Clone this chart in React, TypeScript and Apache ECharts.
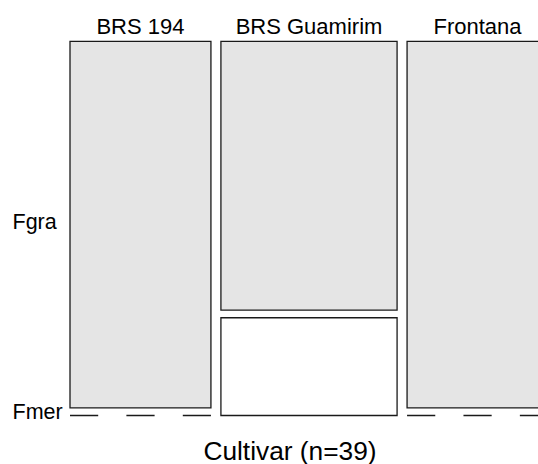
import React, { useEffect, useRef } from "react";
import * as echarts from "echarts";

// Cultivar x response counts for the mosaic
const cultivars = ["BRS 194", "BRS Guamirim", "Frontana"];
const responses = ["Fgra", "Fmer"];
const fgraCounts = [12, 11, 12];
const fmerCounts = [0, 4, 0];

// Spacing between tiles: columns in count units, rows as a share of the column height
const GAP_X = 0.85;
const GAP_Y = 0.021;

const FONT = "'Liberation Sans', Arial, Helvetica, sans-serif";
const STROKE = "#1a1a1a";

export default function App() {
  const ref = useRef<HTMLDivElement>(null);

  useEffect(() => {
    document.body.style.margin = "0";
    const chart = echarts.init(ref.current!, null, { renderer: "svg" });

    const totals = cultivars.map((_, i) => fgraCounts[i] + fmerCounts[i]);
    const n = totals.reduce((a, b) => a + b, 0);
    const starts: number[] = [];
    let acc = 0;
    totals.forEach((t, i) => {
      starts.push(acc + i * GAP_X);
      acc += t;
    });
    const xMax = n + (cultivars.length - 1) * GAP_X;
    const yMax = 1 + GAP_Y;

    const renderItem = (params: any, api: any) => {
      const i = api.value(0);
      const x0 = starts[i];
      const x1 = x0 + totals[i];
      const pMer = fmerCounts[i] / totals[i];
      const [px0, pBottom] = api.coord([x0, 0]);
      const [px1, pTop] = api.coord([x1, yMax]);
      const pFgraBottom = api.coord([x0, pMer + GAP_Y])[1];
      const children: any[] = [];

      // Fgra tile
      children.push({
        type: "rect",
        shape: { x: px0, y: pTop, width: px1 - px0, height: pFgraBottom - pTop },
        style: { fill: "#e5e5e5", stroke: STROKE, lineWidth: 1.3 },
      });

      // Fmer tile, or a dashed line where the count is zero
      if (fmerCounts[i] > 0) {
        const pMerTop = api.coord([x0, pMer])[1];
        children.push({
          type: "rect",
          shape: { x: px0, y: pMerTop, width: px1 - px0, height: pBottom - pMerTop },
          style: { fill: "#ffffff", stroke: STROKE, lineWidth: 1.3 },
        });
      } else {
        children.push({
          type: "line",
          shape: { x1: px0, y1: pBottom, x2: px1, y2: pBottom },
          style: { stroke: STROKE, lineWidth: 1.3, lineDash: [28.2, 28.2] },
        });
      }

      // Column label
      children.push({
        type: "text",
        x: (px0 + px1) / 2,
        y: pTop - 14.5,
        style: {
          text: cultivars[i],
          fill: "#000",
          font: `22px ${FONT}`,
          align: "center",
          verticalAlign: "middle",
        },
      });

      // Row labels beside the first column
      if (i === 0) {
        const yFgra = api.coord([x0, (pMer + GAP_Y + yMax) / 2])[1];
        const yFmer = api.coord([x0, pMer / 2])[1];
        [
          [responses[0], yFgra - 2.5],
          [responses[1], yFmer - 3.5],
        ].forEach(([label, y]) => {
          children.push({
            type: "text",
            x: 12.5,
            y,
            style: {
              text: label,
              fill: "#000",
              font: `21.5px ${FONT}`,
              align: "left",
              verticalAlign: "middle",
            },
          });
        });
      }

      return { type: "group", children };
    };

    chart.setOption({
      animation: false,
      backgroundColor: "#ffffff",
      grid: {
        left: 70,
        top: 41.3,
        width: 478,
        height: 374.2,
        outerBoundsMode: "none",
        containLabel: false,
      },
      xAxis: { type: "value", min: 0, max: xMax, show: false },
      yAxis: { type: "value", min: 0, max: yMax, show: false },
      graphic: [
        {
          type: "text",
          x: 290,
          y: 450.5,
          style: {
            text: `Cultivar (n=${n})`,
            fill: "#000",
            font: `26.3px ${FONT}`,
            align: "center",
            verticalAlign: "middle",
          },
        },
      ],
      series: [
        {
          type: "custom",
          renderItem,
          clip: false,
          data: cultivars.map((_, i) => [i]),
          encode: { x: 0 },
        },
      ],
    });

    return () => chart.dispose();
  }, []);

  return <div ref={ref} style={{ width: 538, height: 464 }} />;
}
